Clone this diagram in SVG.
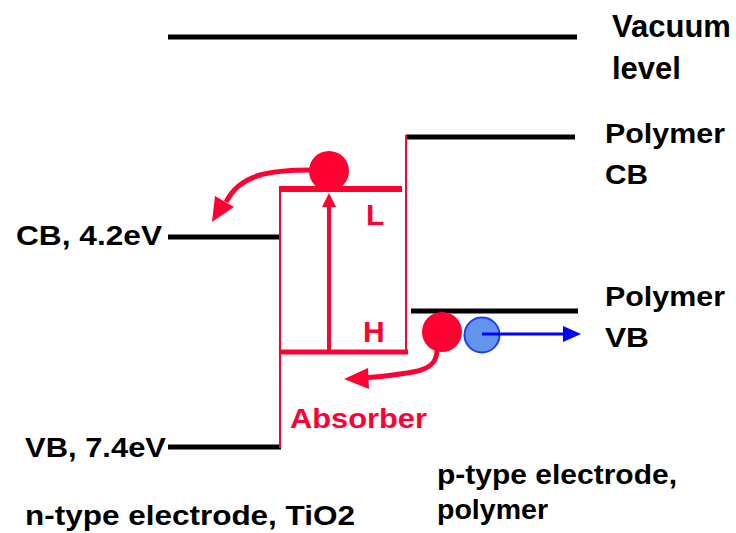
<svg xmlns="http://www.w3.org/2000/svg" width="736" height="533" viewBox="0 0 736 533">
<defs>
<style>
.t{font-family:"Liberation Sans",Arial,sans-serif;font-weight:bold;font-size:27px;fill:#000}
.r{fill:#ff0033}
.lv{stroke:#000;stroke-width:5;fill:none}
.rl{stroke:#ff0033;fill:none}
</style>
</defs>
<rect width="736" height="533" fill="#fff"/>
<g id="levels">
<line class="lv" x1="168" y1="37" x2="577" y2="37"/>
<line class="lv" x1="406" y1="137" x2="575" y2="137"/>
<line class="lv" x1="168" y1="237" x2="281" y2="237"/>
<line class="lv" x1="411" y1="311" x2="578" y2="311"/>
<line class="lv" x1="168" y1="447" x2="281" y2="447"/>
</g>
<g id="absorber">
<line class="rl" stroke-width="2" x1="280" y1="186" x2="280" y2="448"/>
<line class="rl" stroke-width="2" x1="406" y1="135" x2="406" y2="354"/>
<line class="rl" stroke-width="6" x1="279" y1="189" x2="402" y2="189"/>
<line class="rl" stroke-width="5" x1="280" y1="352" x2="408" y2="352"/>
</g>
<g id="connectors">
<line class="rl" stroke-width="4" x1="329" y1="352" x2="329" y2="206"/>
<path d="M322,207 L329,193 L336,207 Z" class="r"/>
<path class="rl" stroke-width="5" d="M312,170 C270,170 240,174 226,202"/>
<path d="M212,222 L215,196 L234,207 Z" class="r"/>
<path class="rl" stroke-width="5" d="M437,350 C437,372 415,373 364,378"/>
<path d="M344,379 L368,368 L369,389 Z" class="r"/>
<line stroke="#0000ff" stroke-width="3" x1="482" y1="334" x2="566" y2="334"/>
<path d="M563,326 L581,334 L563,342 Z" fill="#0000ff"/>
</g>
<g id="electron">
<circle cx="329" cy="171" r="20" class="r"/>
</g>
<g id="hole">
<circle cx="442" cy="332" r="20" class="r"/>
</g>
<g id="polymer-hole">
<circle cx="482" cy="335" r="17.5" fill="#6495ed" stroke="#1c3ff0" stroke-width="2"/>
<line stroke="#0000ff" stroke-width="3" x1="482" y1="334" x2="500" y2="334"/>
</g>
<g id="labels">
<text class="t" x="612" y="37" style="font-size:31px">Vacuum</text>
<text class="t" x="612" y="79" style="font-size:31px">level</text>
<text class="t" x="605" y="143" textLength="120" lengthAdjust="spacingAndGlyphs">Polymer</text>
<text class="t" x="605" y="184" textLength="43" lengthAdjust="spacingAndGlyphs">CB</text>
<text class="t" x="605" y="306" textLength="120" lengthAdjust="spacingAndGlyphs">Polymer</text>
<text class="t" x="605" y="347" textLength="44" lengthAdjust="spacingAndGlyphs">VB</text>
<text class="t" x="16" y="245" textLength="146" lengthAdjust="spacingAndGlyphs">CB, 4.2eV</text>
<text class="t" x="25" y="457" textLength="141" lengthAdjust="spacingAndGlyphs">VB, 7.4eV</text>
<text class="t" x="25" y="525" textLength="330" lengthAdjust="spacingAndGlyphs">n-type electrode, TiO2</text>
<text class="t" x="437" y="484" textLength="240" lengthAdjust="spacingAndGlyphs">p-type electrode,</text>
<text class="t" x="437" y="519" textLength="111" lengthAdjust="spacingAndGlyphs">polymer</text>
<text class="t r" x="290" y="428" style="font-size:28px" textLength="137" lengthAdjust="spacingAndGlyphs">Absorber</text>
<text class="t r" x="366" y="225" style="font-size:30px">L</text>
<text class="t r" x="363" y="342" style="font-size:30px">H</text>
</g>
</svg>
